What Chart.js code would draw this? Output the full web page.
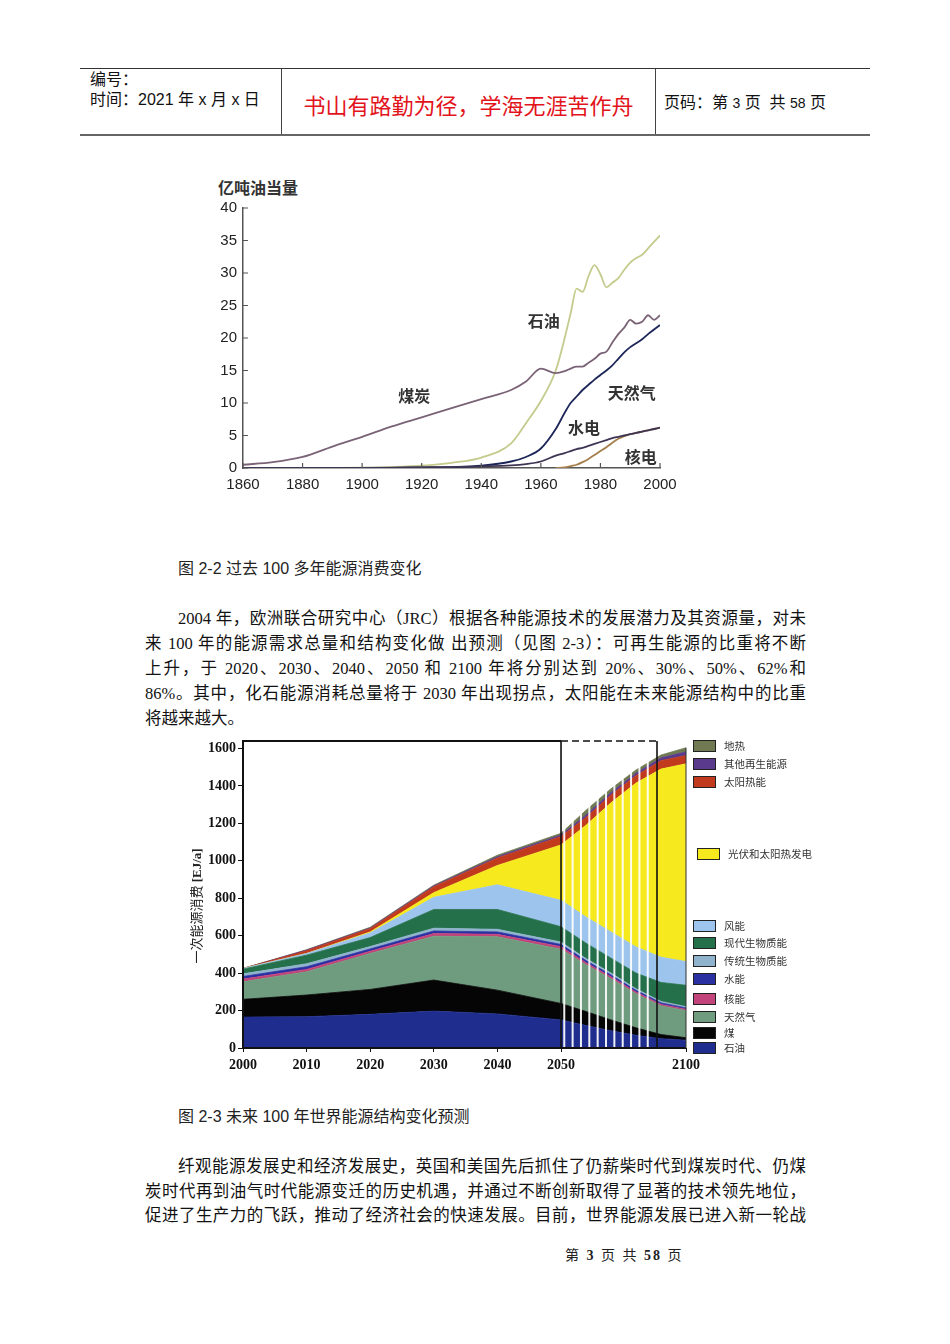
<!DOCTYPE html>
<html>
<head>
<meta charset="utf-8">
<script src="https://cdn.jsdelivr.net/npm/chart.js@4.4.1/dist/chart.umd.min.js"></script>
<style>
  body { margin: 0; background: #fff; }
  #page { position: relative; width: 950px; height: 1344px; overflow: hidden; background: #fff;
          font-family: "Liberation Serif", "Noto Sans CJK SC", serif; color: #111; }
  .abs { position: absolute; }
  .hd { position: absolute; font-family: "Liberation Sans", "Noto Sans CJK SC", sans-serif; font-size: 16px; line-height: 20px; color: #111; }
  .line { position: absolute; height: 24px; line-height: 24px; font-size: 16.5px; text-align: justify; text-align-last: justify; }
  .cap { position: absolute; font-family: "Liberation Sans", "Noto Sans CJK SC", sans-serif; font-size: 16px; line-height: 22px; color: #222; }
  .lg-sw { position: absolute; width: 21px; height: 10px; border: 1px solid #222; }
  .lg-tx { position: absolute; font-family: "Noto Sans CJK SC", sans-serif; font-size: 10.5px; line-height: 14px; color: #333; white-space: nowrap; }
  canvas { position: absolute; }
</style>
</head>
<body>
<div id="page">
  <!-- header table -->
  <div class="abs" style="left:80px;top:68px;width:790px;height:1px;background:#333"></div>
  <div class="abs" style="left:80px;top:134px;width:790px;height:2px;background:#666"></div>
  <div class="abs" style="left:281px;top:69px;width:1px;height:65px;background:#444"></div>
  <div class="abs" style="left:655px;top:69px;width:1px;height:65px;background:#444"></div>
  <div class="hd" style="left:90px;top:70px">编号：</div>
  <div class="hd" style="left:90px;top:90px">时间：2021 年 x 月 x 日</div>
  <div class="abs" style="left:282px;top:90px;width:373px;text-align:center;font-family:'Noto Sans CJK SC',sans-serif;font-size:22px;line-height:28px;color:#e3131b">书山有路勤为径，学海无涯苦作舟</div>
  <div class="hd" style="left:664px;top:93px">页码：第 <span style="font-size:14px">3</span> 页&nbsp; 共 <span style="font-size:14px">58</span> 页</div>

  <!-- figure 2-2 -->
  <div class="abs" style="left:218px;top:177px;font-family:'Noto Sans CJK SC',sans-serif;font-weight:bold;font-size:16px;line-height:20px;color:#333">亿吨油当量</div>
  <canvas id="histChart" width="520" height="360" style="left:180px;top:170px"></canvas>
  <div class="cap" style="left:178px;top:558px">图 2-2 过去 100 多年能源消费变化</div>

  <div class="line" style="left:178px;top:607px;width:628px">2004 年，欧洲联合研究中心（JRC）根据各种能源技术的发展潜力及其资源量，对未</div>
  <div class="line" style="left:145px;top:632px;width:661px">来 100 年的能源需求总量和结构变化做 出预测（见图 2-3）：可再生能源的比重将不断</div>
  <div class="line" style="left:145px;top:657px;width:661px">上升，于 2020、2030、2040、2050 和 2100 年将分别达到 20%、30%、50%、62%和</div>
  <div class="line" style="left:145px;top:682px;width:661px">86%。其中，化石能源消耗总量将于 2030 年出现拐点，太阳能在未来能源结构中的比重</div>
  <div class="line" style="left:145px;top:707px;text-align:left;text-align-last:left">将越来越大。</div>

  <!-- figure 2-3 -->
  <canvas id="mixChart" width="530" height="345" style="left:180px;top:730px"></canvas>
  <div class="abs" style="left:127px;top:898px;width:140px;height:16px;line-height:16px;text-align:center;transform:rotate(-90deg);font-size:13px;color:#222">一次能源消费 <b style="font-family:'Liberation Serif',serif">[EJ/a]</b></div>
  <div id="mixLegend"></div>
  <div class="cap" style="left:178px;top:1106px">图 2-3 未来 100 年世界能源结构变化预测</div>

  <div class="line" style="left:178px;top:1155px;width:628px">纤观能源发展史和经济发展史，英国和美国先后抓住了仍薪柴时代到煤炭时代、仍煤</div>
  <div class="line" style="left:145px;top:1180px;width:661px">炭时代再到油气时代能源变迁的历史机遇，并通过不断创新取得了显著的技术领先地位，</div>
  <div class="line" style="left:145px;top:1204px;width:661px">促进了生产力的飞跃，推动了经济社会的快速发展。目前，世界能源发展已进入新一轮战</div>

  <div class="abs" style="left:565px;top:1247px;font-size:14px;line-height:18px;color:#222;letter-spacing:2px">第 <b>3</b> 页 共 <b>58</b> 页</div>
</div>

<script>
// ===== figure 2-2: energy use 1860-2000 (亿吨油当量) =====
const histYears = [1860, 1870, 1880, 1890, 1900, 1910, 1920, 1930, 1940, 1950, 1955, 1960, 1965, 1968, 1970,
                   1972, 1974, 1976, 1978, 1980, 1982, 1984, 1986, 1988, 1990, 1992, 1994, 1996, 1998, 2000];
const coalHist    = [0.5, 0.9, 1.7, 3.3, 4.8, 6.4, 7.8, 9.2, 10.6, 12.0, 13.3, 15.3, 14.6, 14.9, 15.3,
                     15.6, 15.6, 16.2, 16.8, 17.6, 17.9, 19.3, 20.6, 21.6, 22.8, 22.2, 22.5, 23.5, 22.8, 23.5];
const oilHist     = [0, 0, 0, 0.02, 0.05, 0.15, 0.35, 0.8, 1.6, 3.8, 6.9, 10.3, 15.0, 20.0, 23.8,
                     27.6, 27.1, 29.5, 31.2, 29.8, 27.8, 28.5, 29.2, 30.5, 31.6, 32.3, 32.8, 33.8, 34.8, 35.8];
const gasHist     = [0, 0, 0, 0, 0, 0.03, 0.08, 0.15, 0.35, 1.0, 1.7, 3.0, 6.0, 8.5, 10.0,
                     11.0, 12.0, 12.8, 13.6, 14.3, 15.0, 15.8, 16.8, 17.8, 18.6, 19.2, 19.8, 20.6, 21.3, 22.0];
const hydroHist   = [0, 0, 0, 0, 0.02, 0.05, 0.1, 0.15, 0.25, 0.4, 0.6, 1.0, 1.9, 2.3, 2.6,
                     2.9, 3.1, 3.4, 3.7, 4.0, 4.3, 4.6, 4.8, 5.0, 5.2, 5.4, 5.6, 5.8, 6.0, 6.2];
const nuclearHist = [null, null, null, null, null, null, null, null, null, null, null, null, 0, 0.1, 0.3,
                     0.5, 0.9, 1.4, 2.0, 2.6, 3.2, 3.9, 4.5, 4.9, 5.2, 5.4, 5.6, 5.8, 6.0, 6.2];

// text labels placed in data units
const histNotes = [
  { text: '石油', year: 1961, value: 22.6 },
  { text: '煤炭', year: 1917.5, value: 11.1 },
  { text: '天然气', year: 1990.5, value: 11.5 },
  { text: '水电', year: 1974.5, value: 6.2 },
  { text: '核电', year: 1993.5, value: 1.7 }
];

// ===== figure 2-3: world primary energy mix 2000-2100 (EJ/a) =====
const mixYears     = [2000, 2010, 2020, 2030, 2040, 2050, 2060, 2070, 2080, 2090, 2100];
const oilMix       = [165, 167, 180, 197, 182, 150, 120, 92, 68, 50, 42];
const coalMix      = [95, 116, 133, 166, 127, 88, 75, 58, 40, 22, 13];
const gasMix       = [94, 124, 192, 234, 285, 290, 250, 220, 182, 153, 145];
const nuclearMix   = [14, 13, 12, 14, 13, 13, 11, 10, 9, 8, 7];
const hydroMix     = [14, 14, 12, 14, 13, 12, 11, 10, 9, 8, 7];
const tradBioMix   = [14, 16, 13, 15, 14, 13, 11, 10, 9, 8, 7];
const modernBioMix = [25, 46, 48, 100, 106, 82, 82, 80, 83, 101, 114];
const windMix      = [4, 9, 25, 65, 132, 141, 140, 140, 140, 135, 127];
const pvMix        = [0, 0, 5, 25, 103, 296, 490, 690, 875, 1005, 1056];
const solarHeatMix = [0, 15, 18, 32, 40, 45, 42, 42, 40, 45, 44];
const otherRenMix  = [0, 3, 3, 4, 7, 8, 13, 13, 13, 15, 20];
const geoMix       = [0, 2, 4, 4, 8, 9, 25, 20, 17, 15, 22];

const mixNames  = ['石油', '煤', '天然气', '核能', '水能', '传统生物质能', '现代生物质能', '风能',
                   '光伏和太阳热发电', '太阳热能', '其他再生能源', '地热'];
const mixValues = [oilMix, coalMix, gasMix, nuclearMix, hydroMix, tradBioMix, modernBioMix, windMix,
                   pvMix, solarHeatMix, otherRenMix, geoMix];
const mixColors = ['#1f2e8e', '#050505', '#6f9c7e', '#c2447a', '#2a30a2', '#8fb3cc', '#24704a', '#9cc4ec',
                   '#f6ea1e', '#c23a1e', '#5a3a8c', '#6f7a52'];
const mixTickYears = [2000, 2010, 2020, 2030, 2040, 2050, 2100];
const mixTickValues = [0, 200, 400, 600, 800, 1000, 1200, 1400, 1600];

// the source axis squeezes 2050-2100 into a shorter span than the decades before
const LATE_SPAN = 1.965;       // width of 2050-2100 in "decade" units
const SPLIT_YEAR = 2088.4;     // second black divider
const STRIPE_STEP = 3.34;      // white stripes between 2050 and the divider
function axisPos(yr) {
  return yr <= 2050 ? (yr - 2000) / 10 : 5 + (yr - 2050) / 50 * LATE_SPAN;
}

// ---------- chart 1 ----------
const innerTicks = {
  id: 'innerTicks',
  afterDraw(chart) {
    const { ctx, chartArea: a, scales: { x, y } } = chart;
    ctx.save();
    ctx.strokeStyle = '#555';
    ctx.lineWidth = 1.2;
    ctx.beginPath();
    x.ticks.forEach(t => {
      const px = x.getPixelForValue(t.value);
      ctx.moveTo(px, a.bottom); ctx.lineTo(px, a.bottom - 5);
    });
    y.ticks.forEach(t => {
      const py = y.getPixelForValue(t.value);
      ctx.moveTo(a.left, py); ctx.lineTo(a.left + 5, py);
    });
    ctx.stroke();

    ctx.fillStyle = '#333';
    ctx.font = 'bold 16px "Noto Sans CJK SC", sans-serif';
    ctx.textAlign = 'center';
    ctx.textBaseline = 'middle';
    histNotes.forEach(n => ctx.fillText(n.text, x.getPixelForValue(n.year), y.getPixelForValue(n.value)));
    ctx.restore();
  }
};

function histSeries(vals, color) {
  return {
    data: histYears.map((yr, i) => ({ x: yr, y: vals[i] })),
    borderColor: color,
    borderWidth: 1.8,
    pointRadius: 0,
    cubicInterpolationMode: 'monotone',
    spanGaps: false,
    fill: false
  };
}

new Chart(document.getElementById('histChart'), {
  type: 'line',
  data: {
    datasets: [
      histSeries(hydroHist, '#3e3454'),
      histSeries(nuclearHist, '#a47f4c'),
      histSeries(gasHist, '#1c2658'),
      histSeries(coalHist, '#7b6377'),
      histSeries(oilHist, '#c4cb8c')
    ]
  },
  options: {
    responsive: false,
    animation: false,
    layout: { padding: { left: 0, right: 40, top: 38, bottom: 0 } },
    plugins: { legend: { display: false }, tooltip: { enabled: false } },
    scales: {
      x: {
        type: 'linear', min: 1860, max: 2000,
        grid: { display: false, drawTicks: false },
        border: { display: true, color: '#555', width: 1.5 },
        ticks: { stepSize: 20, padding: 8, color: '#222', font: { family: 'Liberation Sans', size: 15 },
                 callback: v => String(v) },
        afterFit: s => { s.height = 62; }
      },
      y: {
        min: 0, max: 40,
        grid: { display: false, drawTicks: false },
        border: { display: true, color: '#555', width: 1.5 },
        ticks: { stepSize: 5, padding: 6, color: '#222', font: { family: 'Liberation Sans', size: 15 } },
        afterFit: s => { s.width = 63; }
      }
    }
  },
  plugins: [innerTicks]
});

// ---------- chart 2 ----------
const frameMix = {
  id: 'frameMix',
  afterDatasetsDraw(chart) {
    const { ctx, chartArea: a, scales: { x, y } } = chart;
    const px = yr => x.getPixelForValue(axisPos(yr));
    const x50 = px(2050), xSplit = px(SPLIT_YEAR), xEnd = px(2100);
    ctx.save();
    // white stripes of the scenario band
    ctx.strokeStyle = 'rgba(255,255,255,0.92)';
    ctx.lineWidth = 2;
    for (let yr = 2051.3; yr < SPLIT_YEAR - 1; yr += STRIPE_STEP) {
      const sx = px(yr);
      ctx.beginPath(); ctx.moveTo(sx, a.top); ctx.lineTo(sx, a.bottom); ctx.stroke();
    }
    // frame
    ctx.strokeStyle = '#111';
    ctx.lineWidth = 2;
    ctx.beginPath();
    ctx.moveTo(x50, a.top); ctx.lineTo(a.left, a.top); ctx.lineTo(a.left, a.bottom); ctx.lineTo(xEnd, a.bottom);
    ctx.stroke();
    ctx.lineWidth = 1.6;
    ctx.beginPath();
    ctx.moveTo(x50, a.top); ctx.lineTo(x50, a.bottom);
    ctx.moveTo(xSplit, a.top); ctx.lineTo(xSplit, a.bottom);
    ctx.stroke();
    ctx.setLineDash([7, 4]);
    ctx.beginPath(); ctx.moveTo(x50, a.top); ctx.lineTo(xSplit, a.top); ctx.stroke();
    ctx.setLineDash([]);
    // right edge of the last column
    const last = mixValues.reduce((s, v) => s + v[v.length - 1], 0);
    ctx.strokeStyle = '#333';
    ctx.lineWidth = 1;
    ctx.beginPath(); ctx.moveTo(xEnd, y.getPixelForValue(last)); ctx.lineTo(xEnd, a.bottom); ctx.stroke();
    ctx.restore();
  }
};

new Chart(document.getElementById('mixChart'), {
  type: 'line',
  data: {
    datasets: mixValues.map((vals, i) => ({
      label: mixNames[i],
      data: mixYears.map((yr, j) => ({ x: axisPos(yr), y: vals[j] })),
      backgroundColor: mixColors[i],
      borderColor: mixColors[i],
      borderWidth: 0.8,
      pointRadius: 0,
      tension: 0,
      fill: i === 0 ? 'origin' : '-1'
    }))
  },
  options: {
    responsive: false,
    animation: false,
    layout: { padding: { left: 0, right: 24, top: 11, bottom: 0 } },
    plugins: { legend: { display: false }, tooltip: { enabled: false } },
    scales: {
      x: {
        type: 'linear', min: 0, max: axisPos(2100),
        grid: { display: true, drawOnChartArea: false, drawTicks: true, tickLength: 4, color: '#111' },
        border: { display: false },
        afterBuildTicks: s => { s.ticks = mixTickYears.map(yr => ({ value: axisPos(yr) })); },
        ticks: { autoSkip: false, maxRotation: 0, padding: 5, color: '#111',
                 font: { family: 'Liberation Serif', size: 14, weight: 'bold' },
                 callback: (v, i) => String(mixTickYears[i]) },
        afterFit: s => { s.height = 27; }
      },
      y: {
        stacked: true, min: 0, max: 1640,
        grid: { display: true, drawOnChartArea: false, drawTicks: true, tickLength: 5, color: '#111' },
        border: { display: false },
        afterBuildTicks: s => { s.ticks = mixTickValues.map(v => ({ value: v })); },
        ticks: { padding: 2, color: '#111', font: { family: 'Liberation Serif', size: 14, weight: 'bold' },
                 callback: v => String(v) },
        afterFit: s => { s.width = 63; }
      }
    }
  },
  plugins: [frameMix]
});

// legend, top to bottom is the stack reversed
const legendRowY = [746, 764, 782, 854, 926, 943, 961, 979, 999, 1017, 1033, 1048];
const legendBox = document.getElementById('mixLegend');
mixNames.slice().reverse().forEach((name, k) => {
  const idx = mixNames.length - 1 - k;
  const shift = name === '光伏和太阳热发电' ? 4 : 0;
  const sw = document.createElement('div');
  sw.className = 'lg-sw';
  sw.style.left = (693 + shift) + 'px';
  sw.style.top = (legendRowY[k] - 6) + 'px';
  sw.style.background = mixColors[idx];
  legendBox.appendChild(sw);
  const tx = document.createElement('div');
  tx.className = 'lg-tx';
  tx.style.left = (724 + shift) + 'px';
  tx.style.top = (legendRowY[k] - 7) + 'px';
  tx.textContent = name;
  legendBox.appendChild(tx);
});
</script>
</body>
</html>
